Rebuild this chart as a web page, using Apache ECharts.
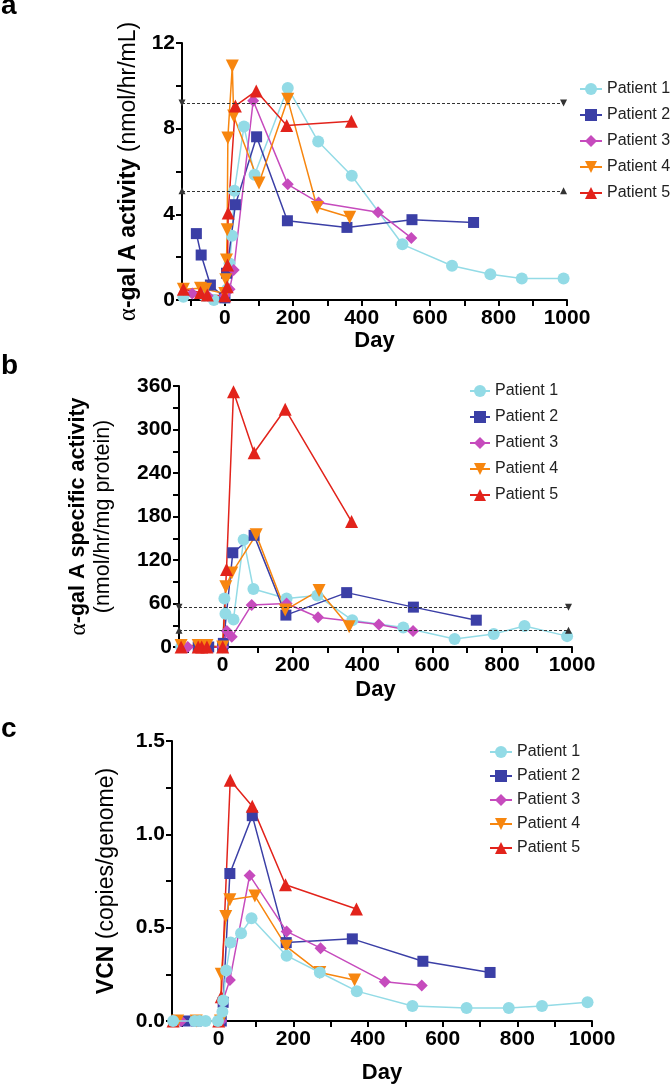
<!DOCTYPE html>
<html>
<head>
<meta charset="utf-8">
<script src="https://cdn.jsdelivr.net/npm/echarts@6/dist/echarts.min.js"></script>
<style>
html, body { margin: 0; padding: 0; background: #fff; }
#chart { width: 670px; height: 1086px; }
</style>
</head>
<body>
<div id="chart"></div>
<script>
const patients = ['Patient 1', 'Patient 2', 'Patient 3', 'Patient 4', 'Patient 5'];
const colors = ['#93dbe6', '#3b3fa6', '#c64bbd', '#f7860f', '#e2231b'];
const symbols = ['circle', 'rect', 'diamond', 'path://M0,0L10,0L5,9Z', 'triangle'];
const symbolSizes = [12, 11, 12, 13, 13];

// panel a: plasma alpha-gal A activity (nmol/hr/mL)
const plasmaDays1 = [-121, -60, -32, 0, 7, 14, 21, 28, 56, 87, 184, 273, 371, 519, 664, 776, 868, 990];
const plasmaAct1 = [0.15, 0.2, 0, 0.1, 0.5, 1.7, 3.0, 5.1, 8.1, 5.85, 9.9, 7.4, 5.8, 2.6, 1.6, 1.2, 1.0, 1.0];
const plasmaDays2 = [-83, -69, -42, 0, 5, 31, 93, 183, 357, 547, 727];
const plasmaAct2 = [3.1, 2.1, 0.7, 0.1, 1.25, 4.45, 7.62, 3.7, 3.39, 3.75, 3.62];
const plasmaDays3 = [-95, -50, 0, 7, 14, 26, 83, 184, 274, 448, 545];
const plasmaAct3 = [0.3, 0.2, 0.2, 0.4, 0.5, 1.4, 9.3, 5.4, 4.55, 4.1, 2.9];
const plasmaDays4 = [-121, -71, -56, 0, 3, 5, 7, 9, 22, 26, 100, 184, 270, 365];
const plasmaAct4 = [0.5, 0.55, 0.5, 0.3, 0.95, 1.87, 3.28, 7.57, 10.93, 8.59, 5.46, 9.37, 4.32, 3.86];
const plasmaDays5 = [-121, -71, -51, 0, 7, 8, 10, 31, 92, 181, 370];
const plasmaAct5 = [0.5, 0.35, 0.23, 0.2, 0.62, 1.64, 4.06, 9.06, 9.76, 8.15, 8.35];
const plasmaRef = [9.2, 5.1];

// panel b: specific activity (nmol/hr/mg protein)
const specDays1 = [-119, -60, -45, 0, 5, 8, 31, 60, 88, 183, 271, 371, 517, 664, 776, 864, 986];
const specAct1 = [0, 0, 0, 0, 67, 46, 38, 148, 80, 67, 71, 37, 27, 11, 18, 29, 15];
const specDays2 = [-70, -55, -40, 0, 2, 29, 90, 181, 355, 546, 726];
const specAct2 = [0, 0, 0, 0, 5, 130, 154, 44, 75, 55, 37];
const specDays3 = [-100, -60, 0, 12, 26, 83, 183, 273, 447, 545];
const specAct3 = [0, 0, 0, 22, 14, 58, 60, 41, 31, 22];
const specDays4 = [-119, -70, -55, -45, 0, 9, 26, 96, 179, 276, 362];
const specAct4 = [2, 2, 2, 2, 0, 83, 102, 155, 51, 78, 28];
const specDays5 = [-119, -70, -60, -45, 0, 11, 31, 90, 179, 369];
const specAct5 = [0, 0, 0, 0, 0, 107, 352, 268, 328, 173];
const specRef = [55, 23];

// panel c: VCN (copies/genome)
const vcnDays1 = [-122, -64, -51, -35, -2, 10, 12, 20, 32, 60, 88, 182, 271, 370, 519, 664, 777, 866, 988];
const vcn1 = [0, 0, 0, 0, 0, 0.05, 0.11, 0.27, 0.42, 0.47, 0.55, 0.35, 0.26, 0.16, 0.08, 0.07, 0.07, 0.08, 0.1];
const vcnDays2 = [-90, -60, 7, 12, 30, 90, 181, 358, 547, 727];
const vcn2 = [0, 0, 0, 0.1, 0.79, 1.1, 0.42, 0.44, 0.32, 0.26];
const vcnDays3 = [-100, -50, 7, 10, 30, 83, 182, 273, 445, 544];
const vcn3 = [0, 0, 0, 0.1, 0.22, 0.78, 0.48, 0.39, 0.21, 0.19];
const vcnDays4 = [-110, -60, 5, 7, 19, 30, 97, 181, 271, 364];
const vcn4 = [0, 0, 0, 0.25, 0.56, 0.65, 0.67, 0.4, 0.26, 0.22];
const vcnDays5 = [-122, 0, 7, 31, 90, 179, 369];
const vcn5 = [0, 0, 0.13, 1.29, 1.15, 0.73, 0.6];

const refDays = [-125, 990];
const dayTicks = [-100, 0, 100, 200, 300, 400, 500, 600, 700, 800, 900, 1000];
const dayLabels = [0, 200, 400, 600, 800, 1000];
const plasmaTicks = [0, 2, 4, 6, 8, 10, 12];
const plasmaLabels = [0, 4, 8, 12];
const specTicks = [0, 30, 60, 90, 120, 150, 180, 210, 240, 270, 300, 330, 360];
const specLabels = [0, 60, 120, 180, 240, 300, 360];
const vcnTicks = [0, 0.25, 0.5, 0.75, 1, 1.25, 1.5];
const vcnLabels = [0, 0.5, 1, 1.5];

const FONT = 'Liberation Sans, Arial, sans-serif';

const panels = [
  [[plasmaDays1, plasmaAct1], [plasmaDays2, plasmaAct2], [plasmaDays3, plasmaAct3], [plasmaDays4, plasmaAct4], [plasmaDays5, plasmaAct5]],
  [[specDays1, specAct1], [specDays2, specAct2], [specDays3, specAct3], [specDays4, specAct4], [specDays5, specAct5]],
  [[vcnDays1, vcn1], [vcnDays2, vcn2], [vcnDays3, vcn3], [vcnDays4, vcn4], [vcnDays5, vcn5]]
];

// dotted normal-range lines with small arrowheads at both ends
function refLines(vals) {
  return {
    silent: true,
    animation: false,
    symbol: ['triangle', 'triangle'],
    symbolSize: 7,
    label: { show: false },
    lineStyle: { type: [3, 2], color: '#333', width: 1 },
    data: [
      [{ coord: [refDays[0], vals[0]], symbolRotate: 180 }, { coord: [refDays[1], vals[0]], symbolRotate: 180 }],
      [{ coord: [refDays[0], vals[1]], symbolRotate: 0 }, { coord: [refDays[1], vals[1]], symbolRotate: 0 }]
    ]
  };
}

const series = [];
panels.forEach((panel, p) => {
  panel.forEach(([days, vals], i) => {
    const s = {
      type: 'line',
      name: patients[i],
      xAxisIndex: p,
      yAxisIndex: p,
      data: days.map((d, k) => [d, vals[k]]),
      symbol: symbols[i],
      symbolSize: symbolSizes[i],
      itemStyle: { color: colors[i] },
      lineStyle: { color: colors[i], width: 1.5 },
      clip: false,
      z: p === 2 && i === 0 ? 5 : 2
    };
    if (i === 0 && p === 0) s.markLine = refLines(plasmaRef);
    if (i === 0 && p === 1) s.markLine = refLines(specRef);
    series.push(s);
  });
});

function xAxis(idx, gap) {
  return {
    type: 'value', gridIndex: idx, min: -125, max: 1000,
    name: 'Day', nameLocation: 'middle', nameGap: gap,
    nameTextStyle: { fontFamily: FONT, fontWeight: 'bold', fontSize: 22, color: '#000' },
    axisLine: { show: true, onZero: false, lineStyle: { color: '#000', width: 2 } },
    axisTick: { show: true, customValues: dayTicks, length: 6, lineStyle: { color: '#000', width: 2 } },
    axisLabel: { customValues: dayLabels, formatter: v => String(v), fontFamily: FONT, fontWeight: 'bold', fontSize: 21, color: '#000', margin: 8 },
    splitLine: { show: false }
  };
}

function yAxis(idx, max, ticks, labels, fmt, name, gap, rich) {
  return {
    type: 'value', gridIndex: idx, min: 0, max: max,
    name: name, nameLocation: 'middle', nameRotate: 90, nameGap: gap,
    nameTextStyle: { rich: rich, color: '#000' },
    axisLine: { show: true, onZero: false, lineStyle: { color: '#000', width: 2 } },
    axisTick: { show: true, customValues: ticks, length: 6, lineStyle: { color: '#000', width: 2 } },
    axisLabel: { customValues: labels, formatter: fmt, fontFamily: FONT, fontWeight: 'bold', fontSize: 21, color: '#000', margin: 7 },
    splitLine: { show: false }
  };
}

function richSet(size) {
  return {
    g: { fontFamily: 'Liberation Serif, serif', fontSize: size + 2, fontWeight: 'normal', color: '#000' },
    b: { fontFamily: FONT, fontSize: size, fontWeight: 'bold', color: '#000', lineHeight: 25 },
    r: { fontFamily: FONT, fontSize: size, fontWeight: 'normal', color: '#000', lineHeight: 25 }
  };
}

function legend(left, top, itemWidth, gap) {
  return {
    data: patients, orient: 'vertical', left: left, top: top,
    itemWidth: itemWidth, itemHeight: 15, itemGap: gap,
    selectedMode: false,
    textStyle: { fontFamily: FONT, fontSize: 16, color: '#222', overflow: 'none' }
  };
}

const chart = echarts.init(document.getElementById('chart'), null, { renderer: 'canvas' });
chart.setOption({
  animation: false,
  backgroundColor: '#fff',
  grid: [
    { left: 182, top: 43, width: 385, height: 257, containLabel: false, outerBoundsMode: 'none' },
    { left: 179, top: 386, width: 393, height: 261, containLabel: false, outerBoundsMode: 'none' },
    { left: 172, top: 741, width: 420, height: 280, containLabel: false, outerBoundsMode: 'none' }
  ],
  xAxis: [xAxis(0, 26), xAxis(1, 32), xAxis(2, 41)],
  yAxis: [
    yAxis(0, 12, plasmaTicks, plasmaLabels, v => String(v),
      '{g|α}{b|-gal A activity }{r|(nmol/hr/mL)}', 32, richSet(23)),
    yAxis(1, 360, specTicks, specLabels, v => String(v),
      '{g|α}{b|-gal A specific activity}\n{r|(nmol/hr/mg protein)}', 63, richSet(21.5)),
    yAxis(2, 1.5, vcnTicks, vcnLabels, v => v.toFixed(1),
      '{b|VCN }{r|(copies/genome)}', 53, richSet(23))
  ],
  legend: [
    legend(574, 76, 22, 10),
    legend(464, 378, 20, 10),
    legend(484, 739, 22, 8)
  ],
  graphic: [
    { type: 'text', left: 1, top: -8, style: { text: 'a', font: 'bold 28px Liberation Sans', fill: '#000' } },
    { type: 'text', left: 1, top: 352, style: { text: 'b', font: 'bold 28px Liberation Sans', fill: '#000' } },
    { type: 'text', left: 1, top: 715, style: { text: 'c', font: 'bold 28px Liberation Sans', fill: '#000' } }
  ],
  series: series
});
</script>
</body>
</html>
